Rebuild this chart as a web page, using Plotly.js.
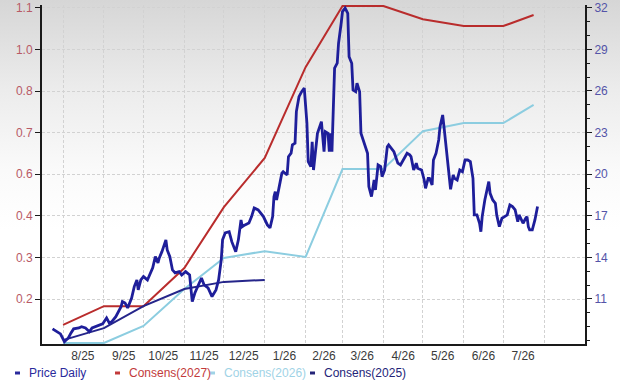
<!DOCTYPE html>
<html>
<head>
<meta charset="utf-8">
<script src="https://cdn.plot.ly/plotly-3.0.1.min.js"></script>
<style>
  html, body { margin: 0; padding: 0; }
  body { width: 620px; height: 385px; background: linear-gradient(to bottom, #d6d6d6 0px, #ececec 90px, #fafafa 170px, #ffffff 230px); }
  #chart { width: 620px; height: 385px; }
</style>
</head>
<body>
<div id="chart"></div>
<script>
// ---- Price (right axis) ----
const priceDates = ['2025-07-24','2025-07-30','2025-08-02','2025-08-05','2025-08-07','2025-08-09','2025-08-13','2025-08-15','2025-08-18','2025-08-21','2025-08-23','2025-08-27','2025-08-31',
'2025-09-03','2025-09-05','2025-09-07','2025-09-10','2025-09-14','2025-09-15','2025-09-17','2025-09-19','2025-09-22','2025-09-24','2025-09-26','2025-09-27','2025-09-29',
'2025-10-01','2025-10-04','2025-10-06','2025-10-08','2025-10-10','2025-10-12','2025-10-13','2025-10-15','2025-10-18','2025-10-19','2025-10-21','2025-10-23','2025-10-25','2025-10-28','2025-10-30',
'2025-11-02','2025-11-05','2025-11-07','2025-11-09','2025-11-11','2025-11-14','2025-11-16','2025-11-19','2025-11-22','2025-11-25','2025-11-27','2025-11-29','2025-11-30',
'2025-12-02','2025-12-05','2025-12-07','2025-12-10','2025-12-12','2025-12-14','2025-12-15','2025-12-17','2025-12-20','2025-12-22','2025-12-24','2025-12-27','2025-12-29','2025-12-31',
'2026-01-03','2026-01-05','2026-01-07','2026-01-08','2026-01-09','2026-01-10','2026-01-12','2026-01-14','2026-01-15','2026-01-18','2026-01-19','2026-01-21','2026-01-22','2026-01-24','2026-01-25','2026-01-27','2026-01-29','2026-01-31',
'2026-02-02','2026-02-03','2026-02-05','2026-02-06','2026-02-07','2026-02-09','2026-02-10','2026-02-13','2026-02-15','2026-02-16','2026-02-18','2026-02-19','2026-02-20','2026-02-21','2026-02-22','2026-02-23','2026-02-25','2026-02-26','2026-02-28',
'2026-03-01','2026-03-03','2026-03-05','2026-03-06','2026-03-08','2026-03-09','2026-03-11','2026-03-12','2026-03-14','2026-03-15','2026-03-17','2026-03-20','2026-03-21','2026-03-23','2026-03-25','2026-03-26','2026-03-28','2026-03-30','2026-03-31',
'2026-04-02','2026-04-04','2026-04-05','2026-04-09','2026-04-12','2026-04-14','2026-04-17','2026-04-19','2026-04-21','2026-04-22','2026-04-24','2026-04-26','2026-04-27','2026-04-30',
'2026-05-02','2026-05-03','2026-05-05','2026-05-06','2026-05-08','2026-05-09','2026-05-11','2026-05-13','2026-05-14','2026-05-16','2026-05-17','2026-05-19','2026-05-20','2026-05-21','2026-05-22','2026-05-24','2026-05-25','2026-05-27','2026-05-29','2026-05-31',
'2026-06-02','2026-06-04','2026-06-06','2026-06-08','2026-06-09','2026-06-11','2026-06-13','2026-06-14','2026-06-15','2026-06-17','2026-06-20','2026-06-21','2026-06-23','2026-06-25','2026-06-26','2026-06-28','2026-06-30',
'2026-07-02','2026-07-04','2026-07-06','2026-07-08','2026-07-10','2026-07-12','2026-07-13','2026-07-14','2026-07-16','2026-07-18','2026-07-19','2026-07-20','2026-07-21','2026-07-23','2026-07-25','2026-07-27'];
const priceValues = [8.84,8.48,7.92,8.19,8.55,8.84,8.91,9.00,8.91,8.64,8.91,9.07,9.20,
9.63,9.27,9.36,9.72,10.44,10.81,10.71,10.35,11.07,11.89,12.37,11.65,12.37,
12.61,12.37,12.88,13.24,14.05,13.60,13.96,14.41,15.26,14.53,14.05,13.09,12.88,12.97,12.73,
12.97,12.73,10.81,11.43,11.89,12.51,12.01,11.79,11.17,11.65,12.37,13.81,15.26,
15.76,15.85,15.13,14.41,15.26,16.70,16.21,16.34,16.48,16.94,17.56,17.42,17.20,16.94,
16.34,16.12,16.94,18.38,18.74,18.14,19.10,20.07,20.18,19.94,21.26,21.51,22.11,22.23,24.51,25.59,25.95,26.20,
23.69,20.90,20.54,22.34,20.30,22.23,22.95,23.79,21.62,23.07,22.95,21.62,22.95,21.62,25.35,27.64,28.00,29.44,30.88,
31.72,31.97,31.60,28.47,28.00,26.07,25.95,26.56,25.95,22.95,22.34,21.51,19.10,18.38,19.58,18.86,20.66,20.54,19.82,
20.30,21.98,22.11,21.62,20.79,20.66,21.15,21.51,21.39,21.26,20.30,20.79,20.43,20.30,
19.58,18.98,19.70,19.70,19.22,21.02,21.51,22.47,23.43,24.27,23.43,21.51,20.43,19.94,18.91,19.94,19.70,19.58,20.30,20.18,
21.02,21.02,20.90,19.70,17.06,17.06,16.46,15.85,16.94,18.14,19.46,18.62,18.14,17.90,17.06,16.21,16.82,
16.94,17.06,17.78,17.66,17.42,16.57,17.06,16.82,16.46,16.82,16.94,16.21,15.98,15.98,16.70,17.66];

// ---- Consensus EPS (left axis) ----
const consDates = ['2025-08-01','2025-09-01','2025-10-01','2025-11-01','2025-12-01','2026-01-01','2026-02-01','2026-03-01','2026-04-01','2026-05-01','2026-06-01','2026-07-01','2026-07-24'];
const cons2027 = [0.120,0.178,0.178,0.296,0.484,0.636,0.917,1.106,1.106,1.065,1.044,1.044,1.078];
const cons2026 = [0.064,0.064,0.117,0.231,0.327,0.348,0.330,0.602,0.602,0.719,0.744,0.744,0.800];
const cons2025Dates = ['2025-08-01','2025-09-01','2025-10-01','2025-11-01','2025-12-01','2026-01-01'];
const cons2025 = [0.073,0.110,0.178,0.231,0.253,0.259];

// ---- Axis labels ----
const monthLabelDates = ['2025-08-16','2025-09-16','2025-10-16','2025-11-16','2025-12-16','2026-01-16','2026-02-15','2026-03-16','2026-04-16','2026-05-16','2026-06-16','2026-07-16'];
const monthLabels = ['8/25','9/25','10/25','11/25','12/25','1/26','2/26','3/26','4/26','5/26','6/26','7/26'];
const leftTickLabels = ['0.2','0.3','0.4','0.6','0.7','0.8','1.0','1.1'];
const rightTickVals = [11,14,17,20,23,26,29,32];

const legendNames = ['Price Daily','Consens(2027)','Consens(2026)','Consens(2025)'];
const legendColors = ['#2a2a9c','#c23a3a','#9fd3e6','#242478'];

const leftMin = 0.2, leftMax = 1.1;
const leftTickVals = leftTickLabels.map((_, i) => leftMin + i * (leftMax - leftMin) / (leftTickLabels.length - 1));

const traces = [
  {x: priceDates, y: priceValues, yaxis: 'y2', type: 'scatter', mode: 'lines',
   line: {color: '#1e1e9a', width: 2.8}, name: legendNames[0], hoverinfo: 'skip'},
  {x: consDates, y: cons2027, type: 'scatter', mode: 'lines',
   line: {color: '#b92c2c', width: 2}, name: legendNames[1]},
  {x: consDates, y: cons2026, type: 'scatter', mode: 'lines',
   line: {color: '#8ccde0', width: 2}, name: legendNames[2]},
  {x: cons2025Dates, y: cons2025, type: 'scatter', mode: 'lines',
   line: {color: '#25258a', width: 2}, name: legendNames[3]}
];

// legend drawn by hand (short thick dash + text), in paper coordinates
const plotL = 42, plotW = 543, plotB = 344, plotH = 339;
const px2x = p => (p - plotL) / plotW;
const px2y = p => (plotB - p) / plotH;
const legendX = [15, 115, 210, 310];
const annotations = [];
const shapes = [];
legendNames.forEach((n, i) => {
  shapes.push({
    type: 'rect', xref: 'paper', yref: 'paper',
    x0: px2x(legendX[i]), x1: px2x(legendX[i] + 5),
    y0: px2y(374.5), y1: px2y(371.5),
    fillcolor: legendColors[i], line: {width: 0}
  });
  annotations.push({
    xref: 'paper', yref: 'paper',
    x: px2x(legendX[i] + 12), y: px2y(373),
    xanchor: 'left', yanchor: 'middle', showarrow: false,
    text: n, font: {family: 'Liberation Sans, Arial, sans-serif', size: 12, color: legendColors[i]}
  });
});

const layout = {
  width: 620, height: 385,
  margin: {l: 42, r: 35, t: 5, b: 41, pad: 0},
  paper_bgcolor: 'rgba(0,0,0,0)',
  plot_bgcolor: 'rgba(0,0,0,0)',
  showlegend: false,
  font: {family: 'Liberation Sans, Arial, sans-serif', size: 12, color: '#333'},
  xaxis: {
    type: 'date',
    range: ['2025-07-16', '2026-09-01'],
    tickmode: 'array', tickvals: monthLabelDates, ticktext: monthLabels,
    ticks: '', showgrid: false, zeroline: false,
    showline: true, linecolor: '#1a1a1a', linewidth: 2,
    tickfont: {size: 12, color: '#3a3a3a'},
    minor: {tickmode: 'linear', tick0: '2025-08-01', dtick: 'M1', showgrid: true,
            gridcolor: '#d2d2d2', gridwidth: 1, griddash: '3px,2px', ticks: ''}
  },
  yaxis: {
    range: [0.061, 1.109],
    tickmode: 'array', tickvals: leftTickVals, ticktext: leftTickLabels,
    ticks: 'outside', ticklen: 5, tickcolor: '#1a1a1a', tickwidth: 1,
    showline: true, linecolor: '#1a1a1a', linewidth: 2,
    showgrid: true, gridcolor: '#d2d2d2', gridwidth: 1, griddash: '3px,2px',
    zeroline: false,
    tickfont: {size: 12, color: '#b85a66'}
  },
  yaxis2: {
    overlaying: 'y', side: 'right',
    range: [7.75, 32.2],
    tickmode: 'array', tickvals: rightTickVals,
    ticks: 'outside', ticklen: 5, tickcolor: '#1a1a1a', tickwidth: 1,
    showline: true, linecolor: '#1a1a1a', linewidth: 2,
    showgrid: false, zeroline: false,
    tickfont: {size: 12, color: '#5454a8'},
    minor: {tickmode: 'linear', tick0: 8, dtick: 1, ticks: 'outside', ticklen: 3, tickcolor: '#1a1a1a', showgrid: false}
  },
  shapes: shapes,
  annotations: annotations
};

Plotly.newPlot('chart', traces, layout, {displayModeBar: false, staticPlot: true});
</script>
</body>
</html>
